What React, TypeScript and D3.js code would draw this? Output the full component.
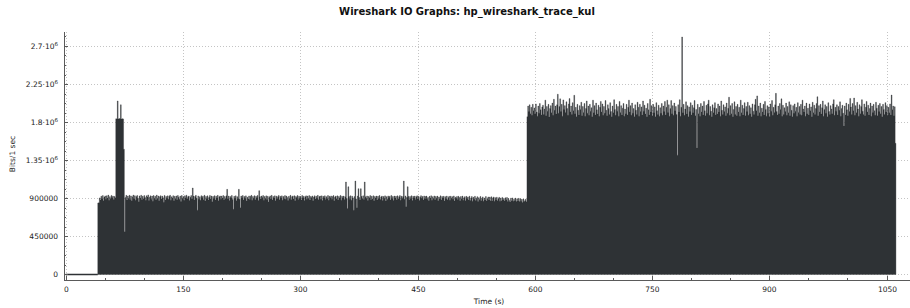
import React from 'react';
import * as d3 from 'd3';

const TITLE = 'Wireshark IO Graphs: hp_wireshark_trace_kul';
const X_LABEL = 'Time (s)';
const Y_LABEL = 'Bits/1 sec';

const Y_TICKS = [0, 450000, 900000, 1350000, 1800000, 2250000, 2700000];
const Y_TICK_MANTISSA = ['0', '450000', '900000', '1.35·10', '1.8·10', '2.25·10', '2.7·10'];
const Y_TICK_EXP = ['', '', '', '6', '6', '6', '6'];
const Y_MINOR_STEP = 112500;
const X_TICKS = [0, 150, 300, 450, 600, 750, 900, 1050];
const X_MINOR_STEP = 50;

// seconds with no traffic
const IDLE_START = 0;
const IDLE_END = 41;

// kbit per second, starting at t = 41 s
const SEG_B_START = 41;
const SEG_B = [
  845, 848, 905, 880, 925, 895, 932, 870, 915, 928,
  890, 930, 905, 938, 878, 920, 898, 934, 910, 926,
  885, 922, 908, 1840, 1836, 2050, 1838, 1842, 1840, 2005,
  1836, 1840, 1838, 1480, 505, 910, 935, 880, 926, 900,
  936, 885, 928, 872, 918, 938, 895, 930, 878, 922,
  934, 900, 860, 928, 905, 937, 882, 925, 895, 932,
  910, 878, 930, 915, 940, 875, 912, 929, 890, 926,
  865, 933, 902, 924, 884, 938, 898, 927, 872, 920,
  931, 892, 926, 908, 855, 934, 880, 922, 902, 929,
  888, 925, 936, 876, 918, 904, 931, 870, 923, 896,
  928, 882, 934, 912, 890, 926, 862, 933, 900, 921,
  878, 930, 906, 937, 891, 919, 927, 873, 912, 932,
  896, 1022, 926, 880, 921, 935, 902, 760, 928, 889,
  918, 876, 931, 909, 925, 884, 936, 868, 922, 898,
  929, 879, 913, 934, 893, 927, 860, 921, 897, 931,
  881, 924, 905, 935, 872, 920, 928, 888, 926, 903,
  933, 884, 922, 899, 929, 1006, 894, 927, 875, 921,
  908, 934, 886, 770, 923, 901, 930, 871, 920, 895,
  1006, 889, 790, 926, 907, 933, 880, 922, 902, 929,
  869, 914, 893, 928, 885, 924, 935, 877, 921, 900,
  931, 883, 923, 906, 934, 874, 990, 920, 891, 927,
  909, 933, 878, 922, 898, 929, 887, 924, 858, 913,
  928, 892, 935, 881, 921, 903, 930, 872, 925, 896,
  920, 934, 884, 924, 907, 929, 876, 922, 894, 932,
  888, 927, 911, 873, 923, 899, 935, 882, 920, 928,
  893, 930, 870, 921, 909, 933, 886, 925, 902, 923,
  879, 934, 906, 924, 875, 920, 929, 890, 927, 901,
  932, 880, 922, 910, 928, 871, 915, 930, 893, 924,
  902, 935, 883, 921, 927, 889, 929, 874, 923, 906,
  930, 885, 920, 899, 933, 877, 924, 911, 928, 890,
  921, 932, 872, 916, 926, 894, 929, 881, 922, 903,
  934, 878, 924, 908, 927, 887, 920, 1093, 899, 780,
  1037, 922, 890, 930, 876, 925, 905, 760, 921, 1104,
  893, 790, 927, 1014, 910, 880, 1014, 923, 898, 929,
  885, 1093, 920, 901, 928, 874, 922, 908, 932, 883,
  924, 892, 930, 871, 921, 904, 927, 879, 923, 897,
  933, 886, 915, 926, 875, 922, 900, 929, 868, 920,
  890, 928, 909, 924, 880, 934, 898, 921, 873, 927,
  904, 923, 884, 929, 895, 920, 932, 877, 925, 902,
  922, 1104, 888, 928, 800, 913, 1037, 924, 882, 921,
  899, 930, 874, 923, 907, 927, 886, 920, 929, 891,
  924, 873, 913, 931, 900, 922, 881, 928, 896, 921,
  927, 889, 911, 870, 923, 903, 930, 878, 920, 898,
  928, 884, 922, 902, 926, 872, 915, 893, 929, 880,
  921, 905, 924, 869, 920, 895, 927, 883, 911, 923,
  876, 925, 900, 920, 888, 928, 867, 914, 901, 922,
  885, 924, 910, 872, 921, 894, 926, 878, 906, 920,
  870, 923, 897, 916, 881, 925, 874, 903, 921, 866,
  912, 889, 924, 873, 901, 920, 862, 908, 886, 922,
  871, 899, 917, 864, 904, 880, 921, 868, 895, 916,
  880, 915, 872, 918, 869, 905, 916, 866, 908, 884,
  914, 870, 897, 912, 865, 903, 871, 911, 880, 899,
  868, 906, 884, 910, 862, 898, 875, 858, 902, 870,
  905, 864, 890, 872, 903, 861, 893, 869, 900, 862,
  895, 866, 888, 850, 891, 863, 872, 889, 860,
];

// kbit per second, starting at t = 590 s
const SEG_C_START = 590;
const SEG_C = [
  1865, 1990, 1925, 2005, 1900, 1975, 1880, 2010, 1935, 1968,
  1895, 2015, 1920, 1870, 1990, 1905, 2020, 1945, 1885, 1980,
  2000, 1890, 1955, 2060, 1875, 1985, 1930, 2010, 1860, 1960,
  1995, 1910, 2025, 1880, 2070, 1940, 1990, 1895, 2005, 2130,
  1905, 1985, 2075, 1925, 2010, 1870, 2063, 1950, 1995, 1915,
  2040, 1960, 1880, 2015, 2078, 1920, 1990, 1890, 2030, 1935,
  2117, 1900, 1975, 1865, 2010, 1940, 1885, 1995, 1950, 2035,
  1875, 1985, 1915, 2020, 1870, 1960, 2050, 1905, 1990, 1880,
  2010, 1930, 1970, 1865, 2060, 1910, 1995, 1885, 2025, 1945,
  1895, 2000, 1870, 1975, 2045, 1920, 2015, 1880, 1985, 1905,
  2055, 1940, 1875, 2005, 1960, 1890, 2030, 1925, 1865, 1990,
  1910, 2065, 1950, 1880, 2010, 1930, 1985, 1870, 2045, 1915,
  1995, 1885, 1965, 2020, 1870, 1955, 1900, 2010, 1885, 1975,
  2060, 1920, 1995, 1880, 2025, 1905, 1960, 1865, 2005, 1940,
  1890, 2035, 1975, 1870, 2010, 1925, 1980, 1885, 2050, 1930,
  2000, 1895, 1965, 1865, 2020, 1945, 1885, 2070, 1920, 1995,
  1875, 2010, 1910, 1980, 1865, 2030, 1935, 1890, 2000, 1870,
  1970, 1905, 2020, 1880, 1990, 1925, 2045, 1885, 1975, 2060,
  1915, 2005, 1870, 1960, 2055, 1900, 1995, 1880, 2025, 1935,
  1985, 1890, 1410, 2005, 1920, 2065, 1870, 1975, 2806, 1910,
  2010, 1880, 1955, 2040, 1895, 1995, 1865, 1980, 1925, 2030,
  1885, 2000, 1910, 1970, 2055, 1875, 1950, 1495, 2010, 1900,
  1975, 1870, 2020, 1920, 1990, 1885, 2045, 1935, 1875, 2000,
  1905, 2015, 2060, 1880, 1985, 1930, 1865, 2005, 1910, 1970,
  2030, 1885, 1960, 1895, 2015, 1920, 1990, 1870, 2050, 1940,
  1890, 2005, 1925, 1980, 1875, 2025, 1905, 1965, 2095, 1880,
  1995, 1900, 2020, 1865, 1950, 2040, 1890, 1985, 1875, 2010,
  1920, 1975, 1870, 2060, 1910, 2000, 1885, 1960, 2030, 1875,
  1985, 1925, 2035, 1880, 1995, 1900, 1970, 1865, 2015, 1930,
  1890, 2005, 2070, 1935, 2110, 1875, 1990, 1910, 2025, 1870,
  1965, 1920, 2010, 1885, 2045, 1950, 1870, 1995, 1905, 1980,
  1865, 2015, 1930, 2055, 1880, 1975, 1915, 2005, 2140, 1925,
  1885, 1990, 1900, 2020, 1950, 2075, 1870, 2000, 1890, 1970,
  1925, 2025, 1880, 1985, 1910, 2040, 1875, 2005, 1940, 1865,
  1995, 1905, 2015, 1930, 1975, 1870, 2030, 1915, 1985, 1890,
  2010, 1880, 2060, 1955, 1920, 1990, 1870, 2025, 1900, 1965,
  1885, 2015, 1935, 1980, 1865, 2035, 1910, 2000, 1890, 1960,
  2020, 2100, 1875, 1995, 1920, 2010, 1895, 1970, 2050, 1870,
  1950, 2005, 1905, 1985, 1865, 2030, 1925, 1890, 1995, 1955,
  1900, 2015, 2065, 1880, 1975, 1930, 2005, 1885, 1985, 1940,
  2040, 1870, 1960, 2000, 1905, 1755, 1990, 1885, 2025, 1945,
  1875, 2010, 1925, 2080, 1980, 1890, 2020, 1935, 2085, 1880,
  1995, 1910, 2035, 1955, 1870, 2005, 1900, 1985, 2065, 1930,
  1890, 2015, 1875, 1975, 2045, 1920, 2000, 1885, 1960, 2025,
  1870, 1990, 1915, 2010, 1935, 1880, 2035, 1965, 1875, 2000,
  1925, 2020, 1900, 1985, 1865, 2010, 1950, 1890, 2030, 1920,
  1995, 1880, 1975, 1910, 2015, 1885, 2120, 1945, 1990, 1875,
  1982, 1550,
];

const W = 910;
const H = 308;
const PLOT = { left: 64, right: 910, top: 32, bottom: 280 };
const FONT = 'DejaVu Sans, Verdana, sans-serif';
const BAR = '#2e3235';

type P = { t: number; v: number };

export default function App() {
  const x = d3.scaleLinear().domain([-2.2, 1080]).range([PLOT.left, PLOT.right]);
  const y = d3.scaleLinear().domain([-65000, 2865000]).range([PLOT.bottom, PLOT.top]);

  const pts: P[] = [];
  const bySec = new Map<number, number>();
  SEG_B.forEach((v, i) => bySec.set(SEG_B_START + i, v * 1000));
  SEG_C.forEach((v, i) => bySec.set(SEG_C_START + i, v * 1000));
  const secs = Array.from(bySec.keys()).sort((a, b) => a - b);
  secs.forEach((t) => pts.push({ t, v: bySec.get(t)! }));
  const last = pts[pts.length - 1];
  pts.push({ t: last.t + 1, v: last.v });

  const area = d3
    .area<P>()
    .x((d) => x(d.t))
    .y0(y(0))
    .y1((d) => y(d.v))
    .curve(d3.curveStepAfter);

  const yMinor = d3.range(0, 2865000, Y_MINOR_STEP).filter((v) => !Y_TICKS.includes(v));
  const xMinor = d3.range(0, 1080, X_MINOR_STEP).filter((v) => !X_TICKS.includes(v));

  const axisColor = '#5a5a5a';
  const gridColor = '#c4c4c4';

  return (
    <svg
      width={W}
      height={H}
      style={{ position: 'absolute', left: 0, top: 0, background: '#fff' }}
      fontFamily={FONT}
    >
      <text x={467} y={15} textAnchor="middle" fontSize={10} fontWeight="bold" fill="#111">
        {TITLE}
      </text>

      {/* grid */}
      {Y_TICKS.map((v) => (
        <line
          key={'gy' + v}
          x1={PLOT.left}
          x2={PLOT.right}
          y1={Math.round(y(v)) + 0.5}
          y2={Math.round(y(v)) + 0.5}
          stroke={gridColor}
          strokeDasharray="1 2"
        />
      ))}
      {X_TICKS.map((v) => (
        <line
          key={'gx' + v}
          x1={Math.round(x(v)) + 0.5}
          x2={Math.round(x(v)) + 0.5}
          y1={PLOT.top}
          y2={PLOT.bottom}
          stroke={gridColor}
          strokeDasharray="1 2"
        />
      ))}

      {/* bars */}
      <path d={area(pts) ?? ''} fill={BAR} stroke={BAR} strokeWidth={0.35} />
      <line
        x1={x(IDLE_START)}
        x2={x(IDLE_END)}
        y1={y(0)}
        y2={y(0)}
        stroke={BAR}
        strokeWidth={1.5}
      />

      {/* axes */}
      <line x1={PLOT.left + 0.5} x2={PLOT.left + 0.5} y1={PLOT.top} y2={PLOT.bottom + 1} stroke={axisColor} />
      <line x1={PLOT.left} x2={PLOT.right} y1={PLOT.bottom + 0.5} y2={PLOT.bottom + 0.5} stroke={axisColor} />

      {Y_TICKS.map((v, i) => {
        const yy = Math.round(y(v)) + 0.5;
        return (
          <g key={'yt' + v}>
            <line x1={PLOT.left} x2={PLOT.left + 4} y1={yy} y2={yy} stroke={axisColor} />
            <text x={58} y={yy + 2.5} textAnchor="end" fontSize={7.5} fill="#222">
              {Y_TICK_MANTISSA[i]}
              {Y_TICK_EXP[i] && (
                <tspan dy={-3} fontSize={5.5}>
                  {Y_TICK_EXP[i]}
                </tspan>
              )}
            </text>
          </g>
        );
      })}
      {yMinor.map((v) => (
        <line
          key={'ym' + v}
          x1={PLOT.left}
          x2={PLOT.left + 2}
          y1={Math.round(y(v)) + 0.5}
          y2={Math.round(y(v)) + 0.5}
          stroke={axisColor}
        />
      ))}

      {X_TICKS.map((v) => {
        const xx = Math.round(x(v)) + 0.5;
        return (
          <g key={'xt' + v}>
            <line x1={xx} x2={xx} y1={PLOT.bottom - 4} y2={PLOT.bottom} stroke={axisColor} />
            <text x={xx} y={292} textAnchor="middle" fontSize={7.5} fill="#222">
              {v}
            </text>
          </g>
        );
      })}
      {xMinor.map((v) => (
        <line
          key={'xm' + v}
          x1={Math.round(x(v)) + 0.5}
          x2={Math.round(x(v)) + 0.5}
          y1={PLOT.bottom - 2}
          y2={PLOT.bottom}
          stroke={axisColor}
        />
      ))}

      <text x={489} y={304} textAnchor="middle" fontSize={7.5} fill="#222">
        {X_LABEL}
      </text>
      <text
        transform={`translate(15,${154}) rotate(-90)`}
        textAnchor="middle"
        fontSize={7.5}
        fill="#222"
      >
        {Y_LABEL}
      </text>
    </svg>
  );
}
